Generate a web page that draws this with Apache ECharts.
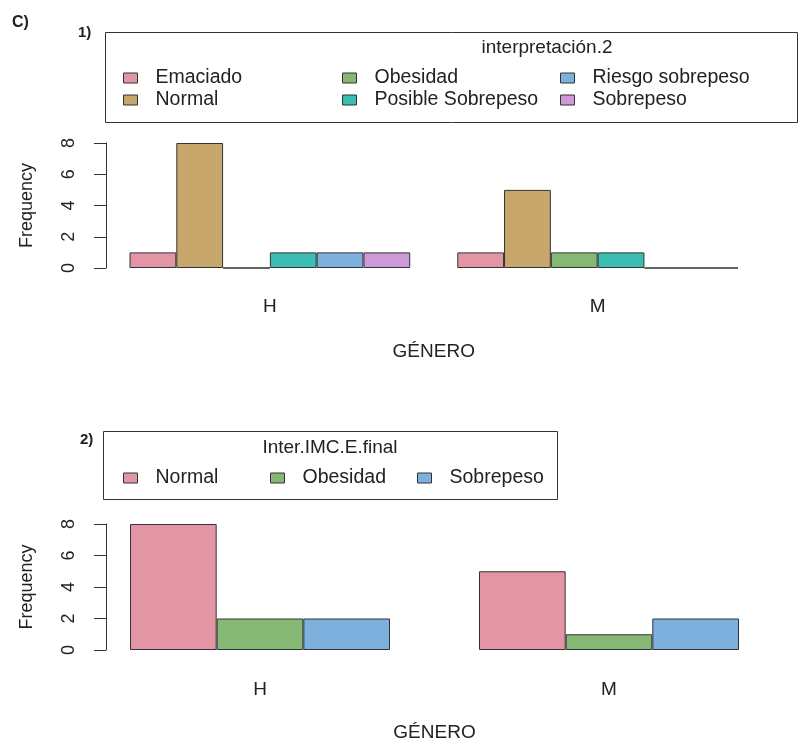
<!DOCTYPE html>
<html>
<head>
<meta charset="utf-8">
<script src="https://cdn.jsdelivr.net/npm/echarts@6/dist/echarts.min.js"></script>
<style>
  html, body { margin: 0; padding: 0; background: #fff; }
  #c1 { position: absolute; left: 0; top: 0; width: 801px; height: 380px; }
  #c2 { position: absolute; left: 0; top: 380px; width: 801px; height: 359px; }
</style>
</head>
<body>
<div id="c1"></div>
<div id="c2"></div>
<script>
// data
const categories = ['H', 'M'];

const interpretacion = ['Emaciado', 'Normal', 'Obesidad', 'Posible Sobrepeso', 'Riesgo sobrepeso', 'Sobrepeso'];
const emaciado = [1, 1];
const normal1 = [8, 5];
const obesidad1 = [0, 1];
const posibleSobrepeso = [1, 1];
const riesgoSobrepeso = [1, 0];
const sobrepeso1 = [1, 0];

const interIMC = ['Normal', 'Obesidad', 'Sobrepeso'];
const normal2 = [8, 5];
const obesidad2 = [2, 1];
const sobrepeso2 = [2, 2];

const yTicks = [0, 2, 4, 6, 8];

// rainbow_hcl palettes
const colors6 = ['#E495A5', '#C7A76C', '#86B875', '#39BEB1', '#7DB0DD', '#CD99D8'];
const colors3 = ['#E495A5', '#86B875', '#7DB0DD'];

const FONT = '"Liberation Sans", Arial, sans-serif';
const INK = '#222';
const EDGE = '#333';

function yAxisOpt(offset) {
  return {
    type: 'value',
    min: yTicks[0],
    max: yTicks[yTicks.length - 1],
    interval: 2,
    offset: offset,
    name: 'Frequency',
    nameLocation: 'middle',
    nameGap: 70,
    nameTextStyle: { fontSize: 18, color: INK, fontFamily: FONT },
    axisLine: { show: true, lineStyle: { color: EDGE, width: 1 } },
    axisTick: { show: true, length: 12, lineStyle: { color: EDGE } },
    axisLabel: { rotate: 90, margin: 28, fontSize: 18, color: INK, fontFamily: FONT },
    splitLine: { show: false }
  };
}

function xAxisOpt(labelMargin, nameGap) {
  return {
    type: 'category',
    data: categories,
    name: 'GÉNERO',
    nameLocation: 'middle',
    nameGap: nameGap,
    nameTextStyle: { fontSize: 19, color: INK, fontFamily: FONT },
    axisLine: { show: false },
    axisTick: { show: false },
    axisLabel: { margin: labelMargin, fontSize: 19, color: INK, fontFamily: FONT }
  };
}

function legendItem(name, left, rowY) {
  return {
    data: [name],
    left: left,
    top: rowY - 10,
    padding: 0,
    icon: 'rect',
    itemWidth: 14,
    itemHeight: 10,
    selectedMode: false,
    itemStyle: { borderColor: EDGE, borderWidth: 1 },
    textStyle: { fontSize: 19.5, lineHeight: 20, color: INK, fontFamily: FONT, padding: [0, 0, 0, 13] }
  };
}

function label(text, x, y, size, bold) {
  return {
    type: 'text', x: x, y: y,
    style: {
      text: text, fill: INK, fontSize: size, fontFamily: FONT,
      fontWeight: bold ? 'bold' : 'normal', align: 'left', verticalAlign: 'middle'
    }
  };
}

// panel 1
const series1Data = [emaciado, normal1, obesidad1, posibleSobrepeso, riesgoSobrepeso, sobrepeso1];
const chart1 = echarts.init(document.getElementById('c1'));
chart1.setOption({
  animation: false,
  textStyle: { fontFamily: FONT },
  grid: { left: 106, right: 39.5, top: 143, bottom: 112, outerBoundsMode: 'none' },
  xAxis: xAxisOpt(29, 74),
  yAxis: yAxisOpt(0),
  legend: [
    legendItem(interpretacion[0], 123, 78),
    legendItem(interpretacion[1], 123, 100),
    legendItem(interpretacion[2], 342, 78),
    legendItem(interpretacion[3], 342, 100),
    legendItem(interpretacion[4], 560, 78),
    legendItem(interpretacion[5], 560, 100)
  ],
  graphic: [
    label('C)', 12, 23, 16, true),
    label('1)', 78, 33, 15, true),
    { type: 'rect', shape: { x: 105.5, y: 32.5, width: 692, height: 90 },
      style: { fill: 'none', stroke: EDGE, lineWidth: 1 } },
    { type: 'text', x: 547, y: 48,
      style: { text: 'interpretación.2', fill: INK, fontSize: 19, fontFamily: FONT, align: 'center', verticalAlign: 'middle' } }
  ],
  series: interpretacion.map((name, i) => ({
    name: name,
    type: 'bar',
    data: series1Data[i],
    barGap: '0%',
    barCategoryGap: '14.35%',
    itemStyle: { color: colors6[i], borderColor: EDGE, borderWidth: 1 }
  }))
});

// panel 2
const series2Data = [normal2, obesidad2, sobrepeso2];
const chart2 = echarts.init(document.getElementById('c2'));
chart2.setOption({
  animation: false,
  textStyle: { fontFamily: FONT },
  grid: { left: 85.5, right: 17.5, top: 144, bottom: 89, outerBoundsMode: 'none' },
  xAxis: xAxisOpt(30, 73),
  yAxis: yAxisOpt(-20.5),
  legend: [
    legendItem(interIMC[0], 123, 98),
    legendItem(interIMC[1], 270, 98),
    legendItem(interIMC[2], 417, 98)
  ],
  graphic: [
    label('2)', 80, 60, 15, true),
    { type: 'rect', shape: { x: 103.5, y: 51.5, width: 454, height: 68 },
      style: { fill: 'none', stroke: EDGE, lineWidth: 1 } },
    { type: 'text', x: 330, y: 68,
      style: { text: 'Inter.IMC.E.final', fill: INK, fontSize: 19, fontFamily: FONT, align: 'center', verticalAlign: 'middle' } }
  ],
  series: interIMC.map((name, i) => ({
    name: name,
    type: 'bar',
    data: series2Data[i],
    barGap: '0%',
    barCategoryGap: '25.5%',
    itemStyle: { color: colors3[i], borderColor: EDGE, borderWidth: 1 }
  }))
});
</script>
</body>
</html>
